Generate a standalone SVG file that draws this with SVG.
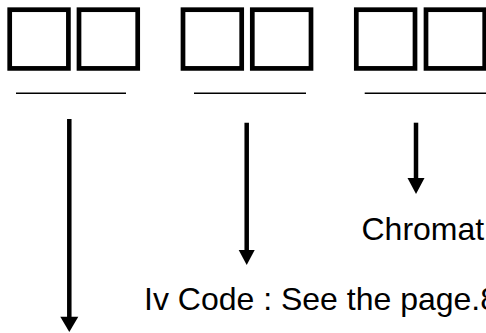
<svg xmlns="http://www.w3.org/2000/svg" width="486" height="333" viewBox="0 0 486 333">
<style>
.box{fill:#fff;stroke:#000;stroke-width:4.7}
.rule{stroke:#000;stroke-width:1.4}
.shaft{stroke:#000;stroke-width:4.5}
.head{fill:#000}
.lbl{font-family:"Liberation Sans",Arial,sans-serif;font-size:32px;fill:#000}
</style>
<rect width="486" height="333" fill="#fff"/>
<g id="box1"><rect class="box" x="9.7" y="9.7" width="58.7" height="58.7"/></g>
<g id="box2"><rect class="box" x="79" y="9.7" width="58.7" height="58.7"/></g>
<g id="box3"><rect class="box" x="183" y="9.7" width="58.7" height="58.7"/></g>
<g id="box4"><rect class="box" x="252.3" y="9.7" width="58.7" height="58.7"/></g>
<g id="box5"><rect class="box" x="356.3" y="9.7" width="58.7" height="58.7"/></g>
<g id="box6"><rect class="box" x="426" y="9.7" width="58.7" height="58.7"/></g>
<g id="rules">
<line class="rule" x1="16" y1="93.3" x2="126" y2="93.3"/>
<line class="rule" x1="194" y1="93.3" x2="306" y2="93.3"/>
<line class="rule" x1="364.7" y1="93.3" x2="490" y2="93.3"/>
</g>
<g id="label-chromat"><text class="lbl" x="361.5" y="240">Chromat</text></g>
<g id="label-ivcode"><text class="lbl" x="144" y="310">Iv Code : See the page.8</text></g>
<g id="connectors">
<line class="shaft" x1="69.3" y1="119" x2="69.3" y2="318"/>
<polygon class="head" points="60.3,316.7 78.3,316.7 69.3,332"/>
<line class="shaft" x1="246.7" y1="122.7" x2="246.7" y2="251"/>
<polygon class="head" points="238.7,250 254.7,250 246.7,265"/>
<line class="shaft" x1="416" y1="122.7" x2="416" y2="179"/>
<polygon class="head" points="407.5,178 424.5,178 416,194"/>
</g>
</svg>
